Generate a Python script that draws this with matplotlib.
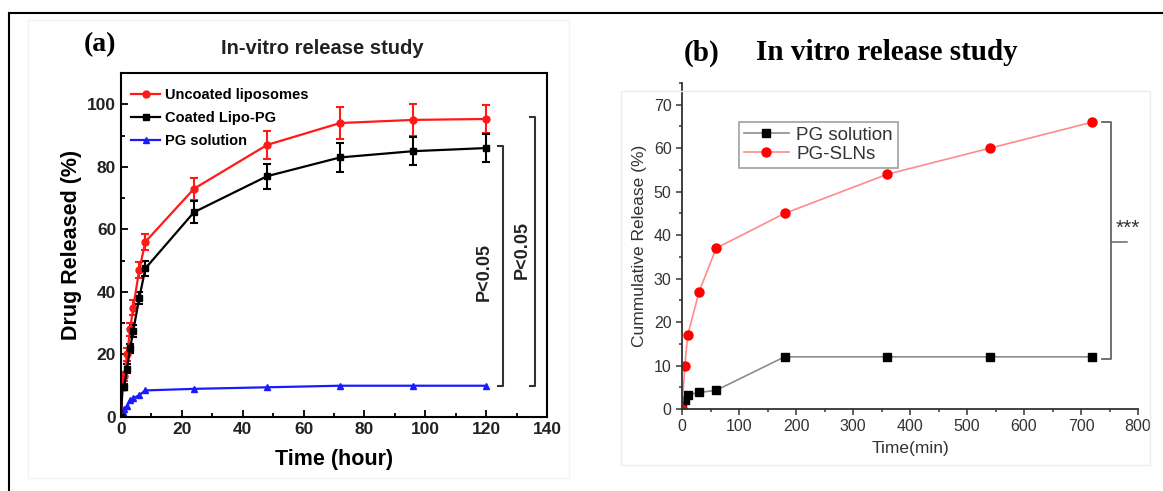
import matplotlib.pyplot as plt
from matplotlib.lines import Line2D
from matplotlib.patches import Rectangle
from matplotlib.ticker import MultipleLocator

plt.rcParams['font.family'] = ['Liberation Sans', 'DejaVu Sans']

# panel (a) data
t_hour = [0, 0.5, 1, 2, 3, 4, 6, 8, 24, 48, 72, 96, 120]
uncoated = [0, 10, 13, 20, 28, 35, 47, 56, 73, 87, 94, 95, 95.3]
uncoated_err = [0, 1.5, 1.5, 2, 2, 2.5, 2.5, 2.5, 3.5, 4.5, 5, 5, 4.5]
coated = [0, 9.5, 9.5, 15.5, 22, 27.5, 38, 47.5, 65.5, 77, 83, 85, 86]
coated_err = [0, 1, 1, 1.5, 1.5, 2, 2, 2.5, 3.5, 4, 4.5, 4.5, 4.5]
pg_sol_a = [0, 1.5, 2.5, 3.5, 5.5, 6, 7, 8.5, 9, 9.5, 10, 10, 10]

# panel (b) data
t_min = [0, 5, 10, 30, 60, 180, 360, 540, 720]
pg_sol_b = [0, 2, 3.3, 3.8, 4.3, 12, 12, 12, 12]
pg_slns = [0, 10, 17, 27, 37, 45, 54, 60, 66]

W, H = 1163, 491
fig = plt.figure(figsize=(W / 100, H / 100), dpi=100)

def fx(px):
    return px / W

def fy(py):
    return 1 - py / H

# outer frame lines and faint panel boxes
fig.add_artist(Line2D([fx(9), 1], [fy(13), fy(13)], color='black', lw=1.5))
fig.add_artist(Line2D([fx(9), fx(9)], [fy(13), 0], color='black', lw=1.5))
fig.add_artist(Rectangle((fx(28), fy(478)), fx(569 - 28), fy(20) - fy(478),
                         fill=False, ec='#f2f2f2', lw=1))
fig.add_artist(Rectangle((fx(621), fy(465)), fx(1150 - 621), fy(91) - fy(465),
                         fill=False, ec='#ececec', lw=1))

# ---------- panel (a) ----------
ax1 = fig.add_axes([fx(121), fy(417), fx(547 - 121), fy(73) - fy(417)])
ax1.errorbar(t_hour, uncoated, yerr=uncoated_err, color='#ff1a1a', marker='o', ms=5,
             lw=1.6, capsize=3, elinewidth=1.5, capthick=1.5)
ax1.errorbar(t_hour, coated, yerr=coated_err, color='black', marker='s', ms=4.5,
             lw=1.6, capsize=3, elinewidth=1.5, capthick=1.5)
ax1.plot(t_hour, pg_sol_a, color='#1a1aff', marker='^', ms=5, lw=1.6)
ax1.set_xlim(0, 140)
ax1.set_ylim(0, 110)
ax1.xaxis.set_major_locator(MultipleLocator(20))
ax1.xaxis.set_minor_locator(MultipleLocator(10))
ax1.yaxis.set_major_locator(MultipleLocator(20))
ax1.yaxis.set_minor_locator(MultipleLocator(10))
ax1.tick_params(which='both', direction='in', width=1.3, labelsize=12.5)
ax1.tick_params(which='major', length=5)
ax1.tick_params(which='minor', length=3)
for lab in ax1.get_xticklabels() + ax1.get_yticklabels():
    lab.set_fontweight('bold')
    lab.set_color('#222222')
for s in ax1.spines.values():
    s.set_linewidth(1.5)
ax1.set_xlabel('Time (hour)', fontsize=15.5, fontweight='bold', labelpad=9)
ax1.set_ylabel('Drug Released (%)', fontsize=15.5, fontweight='bold', labelpad=4)
handles = [
    Line2D([], [], color='#ff1a1a', marker='o', ms=5, lw=1.6),
    Line2D([], [], color='black', marker='s', ms=4.5, lw=1.6),
    Line2D([], [], color='#1a1aff', marker='^', ms=5, lw=1.6),
]
ax1.legend(handles, ['Uncoated liposomes', 'Coated Lipo-PG', 'PG solution'],
           loc='upper left', bbox_to_anchor=(0.0, 0.985), frameon=False,
           prop={'weight': 'bold', 'size': 10.5},
           handlelength=2.0, handletextpad=0.3, labelspacing=0.6,
           borderaxespad=0.3)

# significance brackets
for xb, ytop, xt, yt in [(125.5, 86.5, 119.5, 46.5), (136, 96, 132, 53.5)]:
    ax1.plot([xb - 1.5, xb, xb, xb - 1.5], [ytop, ytop, 10, 10], color='#333333',
             lw=1.5, clip_on=False)
    ax1.text(xt, yt, 'P<0.05', rotation=90, ha='center', va='center',
             fontsize=13, fontweight='bold', color='#222222')

fig.text(fx(100), fy(45), '(a)', fontsize=20, fontweight='bold',
         family='Liberation Serif', ha='center', va='center')
fig.text(fx(322), fy(49), 'In-vitro release study', fontsize=14.5,
         fontweight='bold', ha='center', va='center', color='#222222')

# ---------- panel (b) ----------
ax2 = fig.add_axes([fx(682), fy(409), fx(1138 - 682), fy(83) - fy(409)])
ax2.plot(t_min, pg_sol_b, color='#8c8c8c', lw=1.2, marker='s', ms=6,
         mfc='black', mec='black', label='PG solution')
ax2.plot(t_min, pg_slns, color='#ff8a8a', lw=1.2, marker='o', ms=6.5,
         mfc='#ff0000', mec='#ff0000', label='PG-SLNs')
ax2.set_xlim(0, 800)
ax2.set_ylim(0, 75)
ax2.xaxis.set_major_locator(MultipleLocator(100))
ax2.xaxis.set_minor_locator(MultipleLocator(50))
ax2.yaxis.set_major_locator(MultipleLocator(10))
ax2.yaxis.set_minor_locator(MultipleLocator(5))
ax2.set_yticks(range(0, 71, 10))
ax2.tick_params(which='both', direction='out', width=1.2, labelsize=11.5,
                colors='#444444', labelcolor='#333333')
ax2.tick_params(which='major', length=4)
ax2.tick_params(which='minor', length=2.5)
for side in ['top', 'right']:
    ax2.spines[side].set_visible(False)
for side in ['left', 'bottom']:
    ax2.spines[side].set_linewidth(1.3)
    ax2.spines[side].set_color('#333333')
ax2.set_xlabel('Time(min)', fontsize=12.5, color='#333333', labelpad=5)
ax2.set_ylabel('Cummulative Release (%)', fontsize=12.5, color='#333333', labelpad=5)
leg = ax2.legend(loc='upper left', bbox_to_anchor=(0.125, 0.88), fontsize=13.5,
                 fancybox=False, edgecolor='#888888', handlelength=2.4,
                 handletextpad=0.4, labelspacing=0.1, borderpad=0.25,
                 borderaxespad=0)
leg.get_frame().set_linewidth(1.2)
for txt in leg.get_texts():
    txt.set_color('#333333')

# bracket with stars
ax2.plot([737, 752, 752, 737], [66, 66, 11.6, 11.6], color='#666666', lw=1.3,
         clip_on=False)
ax2.plot([752, 780], [38.5, 38.5], color='#666666', lw=1.1, clip_on=False)
ax2.text(760, 41.5, '***', fontsize=15, color='#333333', ha='left', va='center')

fig.text(fx(702), fy(53), '(b)', fontsize=21, fontweight='bold',
         family='Liberation Serif', ha='center', va='center')
fig.text(fx(887), fy(53), 'In vitro release study', fontsize=21,
         fontweight='bold', family='Liberation Serif', ha='center', va='center')

fig.savefig('out.png', dpi=100)
